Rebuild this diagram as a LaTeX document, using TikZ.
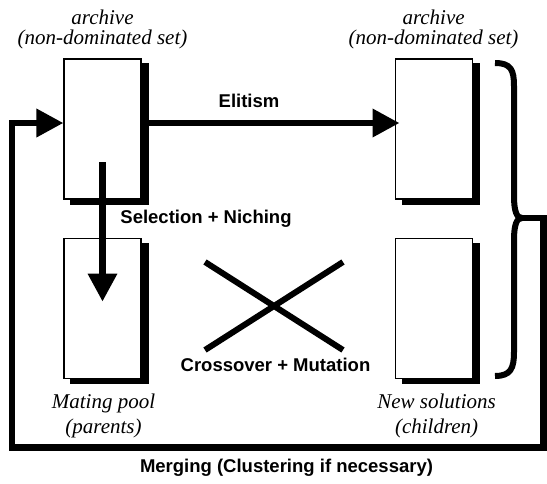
\documentclass[tikz,border=0pt]{standalone}
\usepackage{fontspec}
\setmainfont{Liberation Serif}
\setsansfont{Liberation Sans}
\usepackage{tikz}
\usetikzlibrary{arrows.meta,positioning,calc}

\begin{document}
\begin{tikzpicture}[x=1pt, y=-1pt,
  popbox/.style={draw=black, line width=1.1pt, fill=white, minimum width=77pt, minimum height=140pt, inner sep=0pt,
    preaction={fill=black, draw=black, transform canvas={xshift=7pt, yshift=-5pt}}},
  toptext/.style={align=center, inner sep=0pt, font=\itshape\fontsize{21}{20.5}\selectfont},
  bottext/.style={align=center, inner sep=0pt, font=\itshape\fontsize{21}{24.5}\selectfont},
  oplabel/.style={inner sep=0pt, font=\sffamily\bfseries\fontsize{18.5}{22}\selectfont},
  arrow/.style={-{Triangle[length=27pt, width=27pt]}, line width=6.5pt},
  thickline/.style={line width=6pt}
]
\useasboundingbox (0,0) rectangle (547,483);

% populations
\node[popbox] (archA) at (102.5,129) {};
\node[popbox, right=253pt of archA] (archB) {};
\node[popbox, below=38.5pt of archA] (pool) {};
\node[popbox, below=38.5pt of archB] (kids) {};

% captions
\node[toptext, above=9pt of archA] (archAtxt) {archive\\(non-dominated set)};
\node[toptext, above=9pt of archB] (archBtxt) {archive\\(non-dominated set)};
\node[bottext, below=15pt of pool, xshift=1pt] (pooltxt) {Mating pool\\(parents)};
\node[bottext, below=15pt of kids, xshift=3pt] (kidstxt) {New solutions\\(children)};

% operators
\node[oplabel] (elit) at (249,101) {Elitism};
\node[oplabel] (sel) at (206,219) {Selection + Niching};
\node[oplabel] (xover) at (275.5,365) {Crossover + Mutation};
\node[oplabel] (merge) at (286.5,468) {Merging (Clustering if necessary)};

\draw[arrow] ([xshift=7pt, yshift=6pt]archA.east) -- ([xshift=5pt, yshift=6pt]archB.west);
\draw[arrow, -{Triangle[length=28pt, width=28pt]}] ($(archA.center)+(0,33)$) -- ($(pool.center)+(0,-7)$);

% crossover sign
\draw[thickline] (205,262) -- (343,350);
\draw[thickline] (205,350) -- (343,262);

% brace and merging loop
\coordinate (tip) at (522,218);
\draw[thickline] (495,63) .. controls (511,63) and (514,70) .. (514,86) -- (514,196)
  .. controls (514,212) and (517,218) .. (tip)
  .. controls (517,218) and (514,224) .. (514,240) -- (514,352)
  .. controls (514,368) and (511,376) .. (495,376);
\draw[arrow] (tip) -| (543.5,447.5) -| (12,123) -- ([yshift=6pt]archA.west);
\end{tikzpicture}
\end{document}
